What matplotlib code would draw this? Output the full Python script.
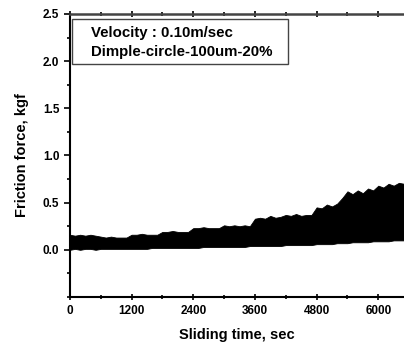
import matplotlib.pyplot as plt
import numpy as np
from matplotlib.ticker import MultipleLocator
from matplotlib.patches import Rectangle

plt.rcParams['font.family'] = ['Liberation Sans', 'DejaVu Sans']
plt.rcParams['font.weight'] = 'bold'

# sliding time (sec), every 100 s
time_s = np.arange(0, 6600, 100)

# upper edge of the friction band (kgf)
upper = [0.16, 0.15, 0.16, 0.15, 0.16, 0.15, 0.14, 0.13, 0.14, 0.13, 0.13, 0.13,
         0.16, 0.16, 0.17, 0.16, 0.16, 0.16, 0.19, 0.19, 0.20, 0.19, 0.19, 0.19,
         0.23, 0.23, 0.24, 0.23, 0.23, 0.23, 0.26, 0.25, 0.26, 0.25, 0.26, 0.25,
         0.33, 0.34, 0.33, 0.36, 0.34, 0.35, 0.37, 0.36, 0.38, 0.36, 0.37, 0.37,
         0.45, 0.44, 0.48, 0.46, 0.49, 0.55, 0.62, 0.59, 0.63, 0.60, 0.65, 0.63,
         0.68, 0.66, 0.70, 0.68, 0.71, 0.70]

# lower edge of the band (kgf)
lower = [0.00, 0.01, 0.00, 0.01, 0.01, 0.00, 0.01, 0.01, 0.01, 0.01, 0.01, 0.01,
         0.01, 0.01, 0.01, 0.01, 0.02, 0.02, 0.02, 0.02, 0.02, 0.02, 0.02, 0.02,
         0.02, 0.02, 0.03, 0.03, 0.03, 0.03, 0.03, 0.03, 0.03, 0.03, 0.03, 0.04,
         0.04, 0.04, 0.04, 0.04, 0.04, 0.04, 0.05, 0.05, 0.05, 0.05, 0.05, 0.05,
         0.06, 0.06, 0.06, 0.06, 0.07, 0.07, 0.07, 0.08, 0.08, 0.08, 0.08, 0.09,
         0.09, 0.09, 0.09, 0.10, 0.10, 0.10]

xticks = [0, 1200, 2400, 3600, 4800, 6000]
yticks = [0.0, 0.5, 1.0, 1.5, 2.0, 2.5]

fig = plt.figure(figsize=(4.04, 3.49), dpi=100)
ax = fig.add_axes([0.173, 0.149, 0.827, 0.811])

ax.fill_between(time_s, lower, upper, color='black', linewidth=0.6, edgecolor='black')

ax.set_xlim(0, 6500)
ax.set_ylim(-0.5, 2.5)
ax.set_xticks(xticks)
ax.set_yticks(yticks)
ax.set_yticklabels(['%.1f' % v for v in yticks])
ax.xaxis.set_minor_locator(MultipleLocator(600))
ax.yaxis.set_minor_locator(MultipleLocator(0.25))
ax.tick_params(which='both', direction='out', labelsize=8.5, width=1.2)
ax.tick_params(which='major', length=4)
ax.tick_params(which='minor', length=2.5)
ax.tick_params(axis='x', top=True, which='both')
ax.tick_params(axis='x', which='both', top=True, direction='inout')
for lab in ax.get_xticklabels() + ax.get_yticklabels():
    lab.set_fontweight('bold')

ax.spines['right'].set_visible(False)
for s in ['left', 'bottom']:
    ax.spines[s].set_linewidth(1.5)
ax.spines['top'].set_linewidth(1.8)
ax.spines['top'].set_color('#444444')

ax.set_xlabel('Sliding time, sec', fontsize=10.5, fontweight='bold', labelpad=8)
ax.set_ylabel('Friction force, kgf', fontsize=10.5, fontweight='bold', labelpad=10)

ax.add_patch(Rectangle((0.006, 0.823), 0.647, 0.159, transform=ax.transAxes,
                       fill=False, edgecolor='#444444', linewidth=1.0))
ax.text(0.063, 0.933, 'Velocity : 0.10m/sec', transform=ax.transAxes,
        fontsize=10.8, fontweight='bold', va='center')
ax.text(0.063, 0.866, 'Dimple-circle-100um-20%', transform=ax.transAxes,
        fontsize=10.8, fontweight='bold', va='center')

fig.savefig('out.png', dpi=100)
